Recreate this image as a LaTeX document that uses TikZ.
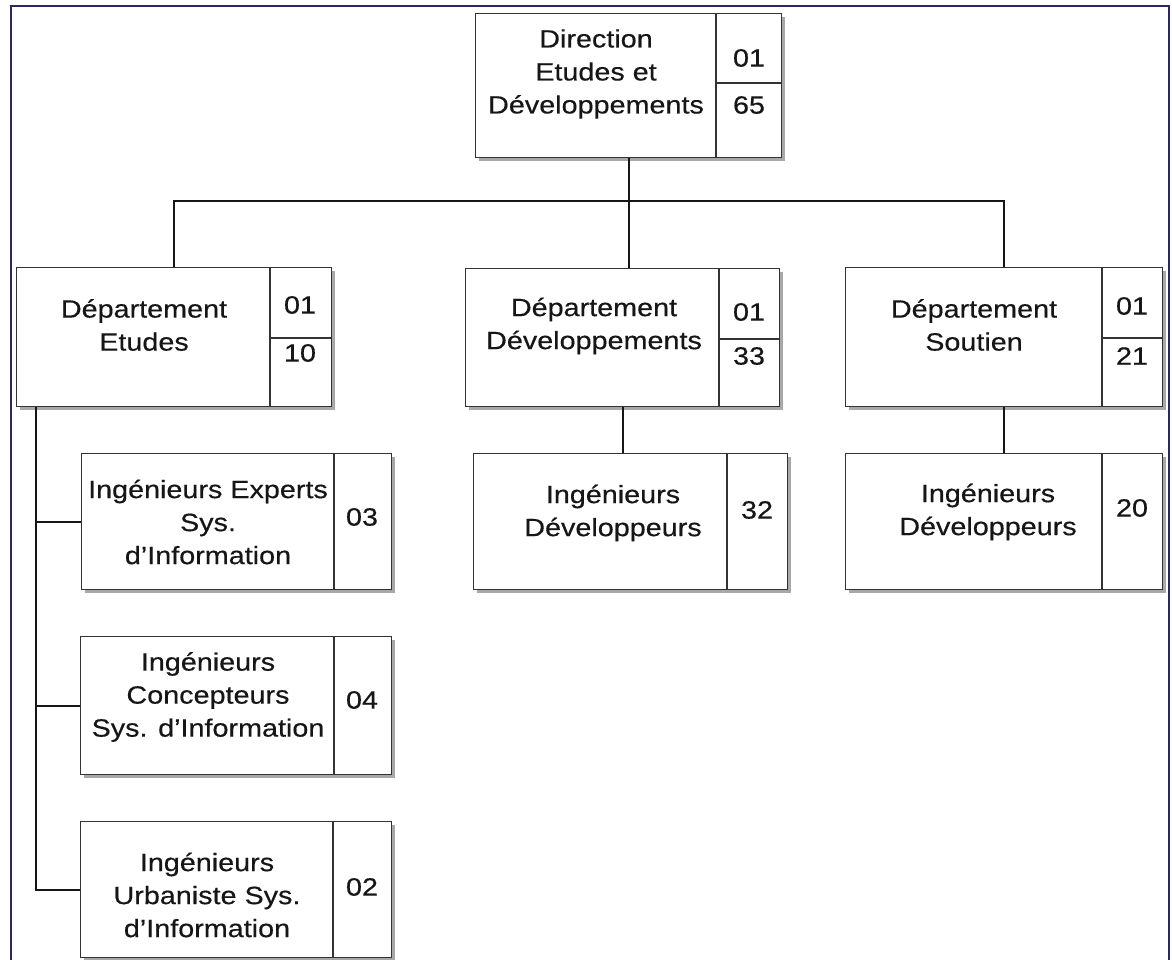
\documentclass[tikz,border=0pt]{standalone}
\usepackage{fontspec}
\setmainfont{Liberation Sans}[FakeStretch=1.15, FakeBold=0.35]
\usetikzlibrary{shadows}
\definecolor{framenavy}{HTML}{2B2B55}
\definecolor{ink}{HTML}{161616}
\definecolor{rulegray}{HTML}{333333}
\definecolor{shade}{HTML}{A8A8A8}
\tikzset{
  unit/.style={draw=rulegray, line width=1.2pt, fill=white, rectangle,
    inner sep=0pt, anchor=north west,
    drop shadow={shadow xshift=3pt, shadow yshift=-3pt, fill=shade, opacity=1}},
  cellrule/.style={draw=rulegray, line width=1.2pt},
  link/.style={draw=ink, line width=1.8pt},
  framestyle/.style={draw=framenavy, line width=2pt},
  lbl/.style={text=ink, align=center, font=\fontsize{25}{33}\selectfont, inner sep=0pt},
  num/.style={text=ink, font=\fontsize{25}{33}\selectfont, inner sep=0pt},
}
\begin{document}
\begin{tikzpicture}[x=1pt,y=-1pt]
\useasboundingbox (0,0) rectangle (1172,960);

% outer frame (open at the bottom)
\draw[framestyle] (11,975) -- (11,6) -- (1169,6) -- (1169,975);

% ---- Direction ----
\node[unit, minimum width=306pt, minimum height=144pt] (dir) at (475,13) {};
\draw[cellrule] (716,13) -- (716,157);
\draw[cellrule] (716,83) -- (781,83);
\node[lbl] (dir-t) at (596,74) {Direction\\Etudes et\\Développements};
\node[num] (dir-a) at (749,58) {01};
\node[num] (dir-b) at (749,105) {65};

% ---- Departments ----
\node[unit, minimum width=315pt, minimum height=139pt] (detu) at (16,267) {};
\draw[cellrule] (270,267) -- (270,406);
\draw[cellrule] (270,338) -- (331,338);
\node[lbl] (detu-t) at (144,325) {Département\\Etudes};
\node[num] (detu-a) at (300,305) {01};
\node[num] (detu-b) at (300,353) {10};

\node[unit, minimum width=314pt, minimum height=138pt] (ddev) at (465,268) {};
\draw[cellrule] (719,268) -- (719,406);
\draw[cellrule] (719,339) -- (779,339);
\node[lbl] (ddev-t) at (594,326) {Département\\Développements};
\node[num] (ddev-a) at (749,312) {01};
\node[num] (ddev-b) at (749,356) {33};

\node[unit, minimum width=317pt, minimum height=139pt] (dsou) at (845,267) {};
\draw[cellrule] (1102,267) -- (1102,406);
\draw[cellrule] (1102,338) -- (1162,338);
\node[lbl] (dsou-t) at (974,325) {Département\\Soutien};
\node[num] (dsou-a) at (1132,306) {01};
\node[num] (dsou-b) at (1132,356) {21};

% ---- Engineer groups, left column ----
\node[unit, minimum width=310pt, minimum height=136pt] (iexp) at (81,453) {};
\draw[cellrule] (334,453) -- (334,589);
\node[lbl] (iexp-t) at (208,522) {Ingénieurs Experts\\Sys.\\d’Information};
\node[num] (iexp-a) at (362,517) {03};

\node[unit, minimum width=311pt, minimum height=138pt] (icon) at (80,636) {};
\draw[cellrule] (334,636) -- (334,774);
\node[lbl] (icon-t) at (208,697) {Ingénieurs\\Concepteurs\\Sys. d’Information};
\node[num] (icon-a) at (362,700) {04};

\node[unit, minimum width=311pt, minimum height=136pt] (iurb) at (80,821) {};
\draw[cellrule] (333,821) -- (333,957);
\node[lbl] (iurb-t) at (207,895) {Ingénieurs\\Urbaniste Sys.\\d’Information};
\node[num] (iurb-a) at (362,887) {02};

% ---- Engineer groups under the other departments ----
\node[unit, minimum width=314pt, minimum height=136pt] (idev) at (473,453) {};
\draw[cellrule] (727,453) -- (727,589);
\node[lbl] (idev-t) at (613,513) {Ingénieurs\\Développeurs};
\node[num] (idev-a) at (757,510) {32};

\node[unit, minimum width=317pt, minimum height=136pt] (isou) at (845,453) {};
\draw[cellrule] (1102,453) -- (1102,589);
\node[lbl] (isou-t) at (988,512) {Ingénieurs\\Développeurs};
\node[num] (isou-a) at (1132,508) {20};

% ---- connectors ----
\path (dir.south) ++(0,43) coordinate (hub);
\draw[link] (dir.south) -- (hub);
\draw[link] (detu.north) |- (hub) -| (dsou.north);
\draw[link] (hub) -- (hub |- ddev.north);
\draw[link] (ddev.south) -- (ddev.south |- idev.north);
\draw[link] (dsou.south) -- (dsou.south |- isou.north);

\coordinate (spine) at ([xshift=20pt]detu.south west);
\draw[link] (spine) |- (iurb.west);
\draw[link] (spine |- iexp.west) -- (iexp.west);
\draw[link] (spine |- icon.west) -- (icon.west);
\end{tikzpicture}
\end{document}
